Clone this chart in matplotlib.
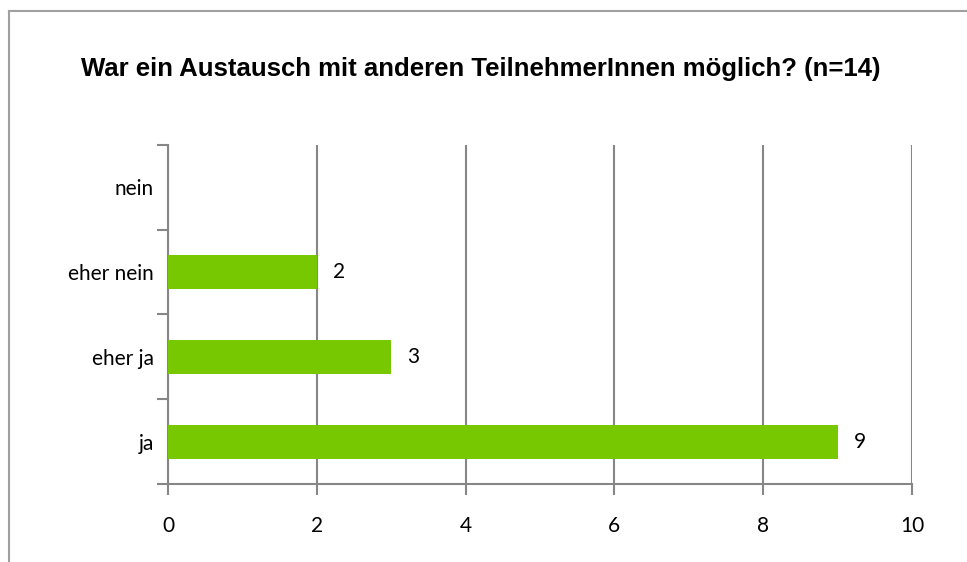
import matplotlib.pyplot as plt
from matplotlib.lines import Line2D
import numpy as np

TITLE = "War ein Austausch mit anderen TeilnehmerInnen möglich? (n=14)"
CATEGORIES = ["ja", "eher ja", "eher nein", "nein"]
COUNTS = [9, 3, 2, 0]
X_TICKS = [0, 2, 4, 6, 8, 10]

BAR_COLOR = "#77C800"
AXIS_GRAY = "#868686"
LABEL_FONT = ["Lato", "DejaVu Sans"]
TITLE_FONT = ["Liberation Sans", "DejaVu Sans"]


def main() -> None:
    plt.rcParams["font.family"] = LABEL_FONT

    fig = plt.figure(figsize=(9.67, 5.62), dpi=100)
    ax = fig.add_axes([0.1737, 0.1388, 0.7694, 0.6032])

    # outer chart frame (right and bottom edges fall outside the image)
    fig.add_artist(Line2D([0.0093, 0.0093], [0.0, 0.9804], color="#A0A0A0", lw=1.5))
    fig.add_artist(Line2D([0.0093, 1.0], [0.9804, 0.9804], color="#A0A0A0", lw=1.5))

    y = np.arange(len(CATEGORIES))
    bars = ax.barh(y, COUNTS, height=0.4, color=BAR_COLOR, zorder=3)
    for bar, val in zip(bars, COUNTS):
        if val > 0:
            ax.text(bar.get_width() + 0.22, bar.get_y() + bar.get_height() / 2,
                    str(val), va="center", ha="left", fontsize=15)

    ax.set_xlim(0, 10)
    ax.set_ylim(-0.5, len(CATEGORIES) - 0.5)
    ax.set_xticks(X_TICKS)
    ax.set_yticks(np.arange(len(CATEGORIES) + 1) - 0.5)
    ax.set_yticklabels([])
    ax.set_yticks(y, minor=True)
    ax.set_yticklabels(CATEGORIES, minor=True, fontsize=15)
    ax.tick_params(axis="y", which="minor", length=0, pad=10)
    ax.tick_params(axis="y", which="major", length=8, width=1.5, color=AXIS_GRAY)
    ax.tick_params(axis="x", length=8, width=1.5, color=AXIS_GRAY, labelsize=15, pad=15)

    ax.grid(axis="x", color=AXIS_GRAY, lw=1.5, zorder=0)
    for side in ["top", "right"]:
        ax.spines[side].set_visible(False)
    for side in ["left", "bottom"]:
        ax.spines[side].set_color(AXIS_GRAY)
        ax.spines[side].set_linewidth(1.5)

    fig.text(0.497, 0.878, TITLE, ha="center", va="center",
             fontsize=18.5, fontweight="bold", family=TITLE_FONT)

    fig.savefig("out.png", dpi=100)


if __name__ == "__main__":
    main()
